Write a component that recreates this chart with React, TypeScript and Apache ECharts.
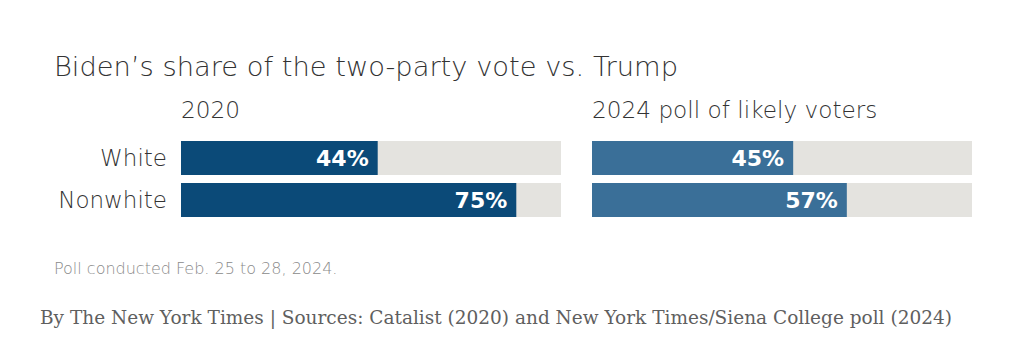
import React, { useEffect, useRef } from "react";
import * as echarts from "echarts";

const categories = ["White", "Nonwhite"];
const values2020 = [44, 75];
const values2024 = [45, 57];
const axisMax = 85;
const panelTitles = ["2020", "2024 poll of likely voters"];
const chartTitle = "Biden\u2019s share of the two-party vote vs. Trump";
const note = "Poll conducted Feb. 25 to 28, 2024.";
const source = "By The New York Times | Sources: Catalist (2020) and New York Times/Siena College poll (2024)";

const SANS = "'DejaVu Sans', sans-serif";
const SERIF = "'DejaVu Serif', serif";

export default function App() {
  const ref = useRef<HTMLDivElement>(null);
  useEffect(() => {
    document.body.style.margin = "0";
    const chart = echarts.init(ref.current!, null, { renderer: "svg" });
    const grids = [
      { left: 181, top: 137, width: 380, height: 84 },
      { left: 592, top: 137, width: 380, height: 84 },
    ];
    const colors = ["#0b4a78", "#3a6f98"];
    const data = [values2020, values2024];
    const series: any[] = [];
    data.forEach((vals, i) => {
      series.push({
        type: "bar",
        xAxisIndex: i,
        yAxisIndex: i,
        data: categories.map(() => axisMax),
        barWidth: 34,
        barGap: "-100%",
        itemStyle: { color: "#e4e3df" },
        silent: true,
        z: 1,
      });
      series.push({
        type: "bar",
        xAxisIndex: i,
        yAxisIndex: i,
        data: vals,
        barWidth: 34,
        barGap: "-100%",
        itemStyle: { color: colors[i] },
        z: 2,
        label: {
          show: true,
          position: "insideRight",
          distance: 9,
          formatter: "{c}%",
          color: "#ffffff",
          fontFamily: SANS,
          fontWeight: "bold",
          fontSize: 22,
        },
      });
    });
    chart.setOption({
      animation: false,
      grid: grids,
      xAxis: grids.map((_, i) => ({
        type: "value",
        gridIndex: i,
        min: 0,
        max: axisMax,
        show: false,
      })),
      yAxis: grids.map((_, i) => ({
        type: "category",
        gridIndex: i,
        data: categories,
        inverse: true,
        axisLine: { show: false },
        axisTick: { show: false },
        axisLabel: {
          show: i === 0,
          margin: 14,
          fontSize: 23,
          fontWeight: 200,
          color: "#333333",
          fontFamily: SANS,
        },
      })),
      series,
      graphic: [
        {
          type: "text",
          left: 54,
          top: 53,
          style: { text: chartTitle, fontSize: 27.3, fontFamily: SANS, fontWeight: 200, fill: "#333333" },
        },
        {
          type: "text",
          left: 181,
          top: 98,
          style: { text: panelTitles[0], fontSize: 23.2, fontFamily: SANS, fontWeight: 200, fill: "#333333" },
        },
        {
          type: "text",
          left: 592,
          top: 98,
          style: { text: panelTitles[1], fontSize: 23.2, fontFamily: SANS, fontWeight: 200, fill: "#333333" },
        },
        {
          type: "text",
          left: 54,
          top: 260,
          style: { text: note, fontSize: 16, fontFamily: SANS, fontWeight: 200, fill: "#8a8a8a" },
        },
        {
          type: "text",
          left: 40,
          top: 308,
          style: { text: source, fontSize: 18.5, fontFamily: SERIF, fill: "#5f5f5f" },
        },
      ],
    });
    return () => chart.dispose();
  }, []);
  return <div ref={ref} style={{ width: 1023, height: 352, background: "#ffffff" }} />;
}
